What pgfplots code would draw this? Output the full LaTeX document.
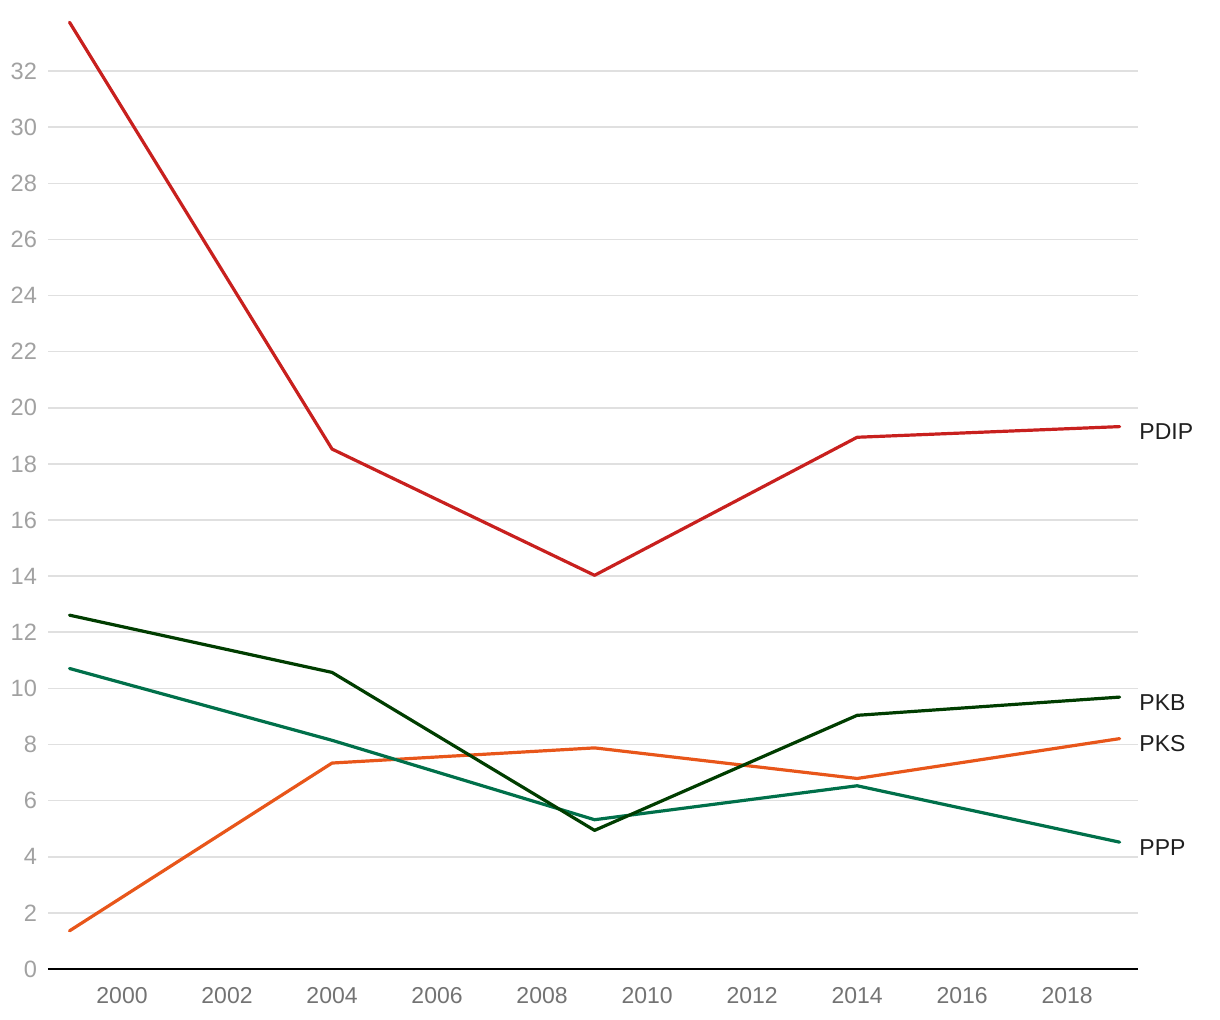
\documentclass[border=0pt]{standalone}
\usepackage{pgfplots}
\pgfplotsset{compat=1.18}
\usepackage{fontspec}
\setmainfont{Liberation Sans}

\definecolor{pdip}{HTML}{C8201E}
\definecolor{pkb}{HTML}{003D00}
\definecolor{ppp}{HTML}{00704A}
\definecolor{pks}{HTML}{E8561A}
\definecolor{gridc}{HTML}{E0E0E0}

\begin{document}
\begin{tikzpicture}
\begin{axis}[
    name=ax,
    scale only axis,
    width=545pt, height=477pt,
    xmin=1998.59, xmax=2019.35,
    ymin=0, ymax=34,
    xtick={2000,2002,...,2018},
    ytick={0,2,...,32},
    axis x line*=bottom,
    axis y line*=left,
    x axis line style={black, line width=0.9pt, -},
    y axis line style={draw=none},
    ymajorgrids,
    grid style={gridc, line width=0.8pt},
    major tick length=0pt,
    tick style={draw=none},
    xticklabel style={text=black!55, font=\fontsize{11.5}{13}\selectfont, yshift=-5.5pt},
    yticklabel style={text=black!37, font=\fontsize{11.8}{13}\selectfont},
    every y tick label/.append style={anchor=east, xshift=-2pt},
    /pgf/number format/1000 sep={},
    /pgf/number format/assume math mode=true,
    clip=false,
    every axis plot/.append style={line width=1.6pt, line cap=round, line join=round, mark=none},
]
% PKS
\addplot[pks] coordinates {(1999,1.36) (2004,7.34) (2009,7.88) (2014,6.79) (2019,8.21)};
% PPP
\addplot[ppp] coordinates {(1999,10.71) (2004,8.15) (2009,5.32) (2014,6.53) (2019,4.52)};
% PKB
\addplot[pkb] coordinates {(1999,12.61) (2004,10.57) (2009,4.94) (2014,9.04) (2019,9.69)};
% PDIP
\addplot[pdip] coordinates {(1999,33.74) (2004,18.53) (2009,14.03) (2014,18.95) (2019,19.33)};

\begin{scope}[every node/.style={anchor=west, inner sep=0pt, text=black!88, font=\fontsize{11.5}{13}\selectfont, yshift=-2.5pt, xshift=0.5pt}]
\node at (axis cs:2019.35,19.33) {PDIP};
\node at (axis cs:2019.35,9.69) {PKB};
\node at (axis cs:2019.35,8.21) {PKS};
\node at (axis cs:2019.35,4.52) {PPP};
\end{scope}
\end{axis}
\pgfresetboundingbox
\path[use as bounding box] (ax.south west) ++(-24pt,-25.5pt) rectangle ++(610pt,510pt);
\end{tikzpicture}
\end{document}
